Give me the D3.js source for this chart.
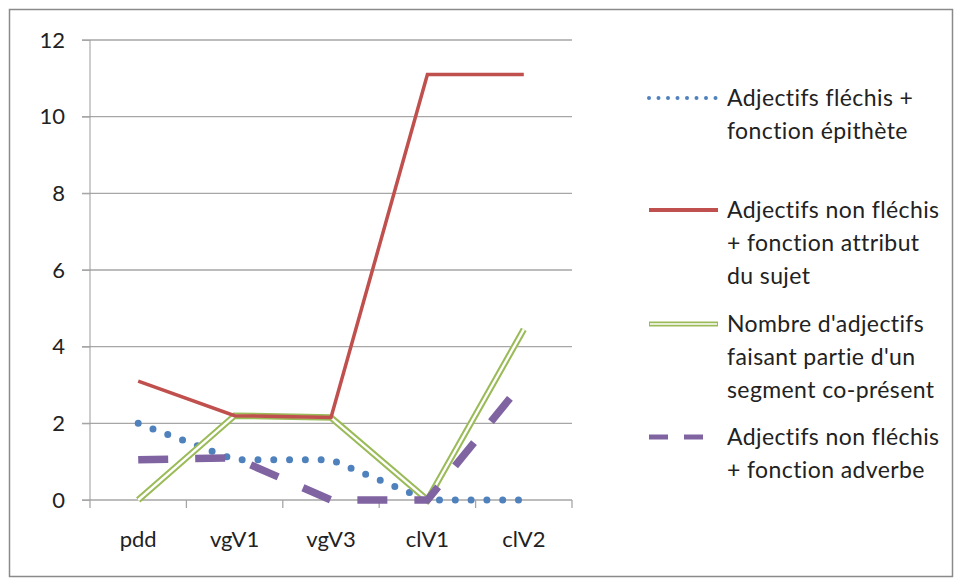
<!DOCTYPE html>
<html><head><meta charset="utf-8">
<script src="https://cdn.jsdelivr.net/npm/d3@7"></script>
<style>body{margin:0;background:#fff}svg{display:block}text{font-family:Lato,"Open Sans",sans-serif;fill:#222}</style>
</head><body><svg id="c" width="957" height="583"></svg>
<script>
const categories = ["pdd","vgV1","vgV3","clV1","clV2"];
const epithete = [2, 1.05, 1.05, 0, 0];
const attribut = [3.1, 2.2, 2.15, 11.1, 11.1];
const coPresent = [0, 2.2, 2.15, 0, 4.45];
const adverbe = [1.05, 1.1, 0, 0, 3.1];
const yTicks = [0,2,4,6,8,10,12];
const legendLabels = [
  ["Adjectifs fléchis +","fonction épithète"],
  ["Adjectifs non fléchis","+ fonction attribut","du sujet"],
  ["Nombre d'adjectifs","faisant partie d'un","segment co-présent"],
  ["Adjectifs non fléchis","+ fonction adverbe"]
];

const svg = d3.select("#c");
svg.append("rect").attr("x",9.5).attr("y",9.5).attr("width",943).attr("height",567)
  .attr("fill","#fff").attr("stroke","#8a8a8a").attr("stroke-width",1.5);

const x = d3.scaleBand().domain(categories).range([90,572]);
const y = d3.scaleLinear().domain([0,12]).range([500,40]);

svg.append("g").selectAll("line").data(yTicks).join("line")
  .attr("x1",82).attr("x2",572).attr("y1",d=>y(d)).attr("y2",d=>y(d))
  .attr("stroke","#a6a6a6").attr("stroke-width",1.3);

const yAxis = svg.append("g").attr("transform","translate(90,0)")
  .call(d3.axisLeft(y).tickValues(yTicks).tickSize(8).tickPadding(17));
yAxis.select(".domain").attr("stroke","#9a9a9a").attr("d","M0,40V500");
yAxis.selectAll(".tick line").attr("stroke","#a6a6a6");
yAxis.selectAll("text").style("font-size","22px").attr("fill","#222");

const xAxis = svg.append("g").attr("transform","translate(0,500)")
  .call(d3.axisBottom(x).tickSize(0).tickPadding(31));
xAxis.select(".domain").remove();
xAxis.selectAll("text").style("font-size","22px").attr("fill","#222");
const bounds = categories.map(c=>x(c)).concat([x.range()[1]]);
svg.append("g").selectAll("line").data(bounds).join("line")
  .attr("x1",d=>d).attr("x2",d=>d).attr("y1",500).attr("y2",508)
  .attr("stroke","#a6a6a6").attr("stroke-width",1.3);

const line = d3.line().x((d,i)=>x(categories[i])+x.bandwidth()/2).y(d=>y(d));

svg.append("path").datum(epithete).attr("d",line).attr("fill","none")
  .attr("stroke","#4f81bd").attr("stroke-width",7).attr("stroke-linecap","round")
  .attr("stroke-dasharray","0 15.8");
svg.append("path").datum(coPresent).attr("d",line).attr("fill","none")
  .attr("stroke","#9bbb59").attr("stroke-width",6.5);
svg.append("path").datum(coPresent).attr("d",line).attr("fill","none")
  .attr("stroke","#fff").attr("stroke-width",2.4);
svg.append("path").datum(attribut).attr("d",line).attr("fill","none")
  .attr("stroke","#c0504d").attr("stroke-width",3.5);
svg.append("path").datum(adverbe).attr("d",line).attr("fill","none")
  .attr("stroke","#8064a2").attr("stroke-width",7.5).attr("stroke-linecap","butt")
  .attr("stroke-dasharray","30 27");

const lg = svg.append("g");
const legY = [98,210,324,437];
const styles = [
  {stroke:"#4f81bd",w:4,dash:"0 9.5",cap:"round",x2:716},
  {stroke:"#c0504d",w:4,dash:null,cap:"butt",x2:718},
  {stroke:"#9bbb59",w:5,dash:null,cap:"butt",double:true,x2:718},
  {stroke:"#8064a2",w:5,dash:"19 16",cap:"butt",x2:705}
];
legY.forEach((ly,i)=>{
  const s = styles[i];
  lg.append("line").attr("x1",649).attr("x2",s.x2).attr("y1",ly).attr("y2",ly)
    .attr("stroke",s.stroke).attr("stroke-width",s.w).attr("stroke-linecap",s.cap)
    .attr("stroke-dasharray",s.dash);
  if(s.double) lg.append("line").attr("x1",650).attr("x2",717).attr("y1",ly).attr("y2",ly)
    .attr("stroke","#fff").attr("stroke-width",1.6);
  legendLabels[i].forEach((t,j)=>{
    lg.append("text").attr("x",727).attr("y",ly+33*j).attr("dy","0.35em")
      .style("font-size","23px").style("letter-spacing","0.4px").text(t);
  });
});
</script></body></html>
